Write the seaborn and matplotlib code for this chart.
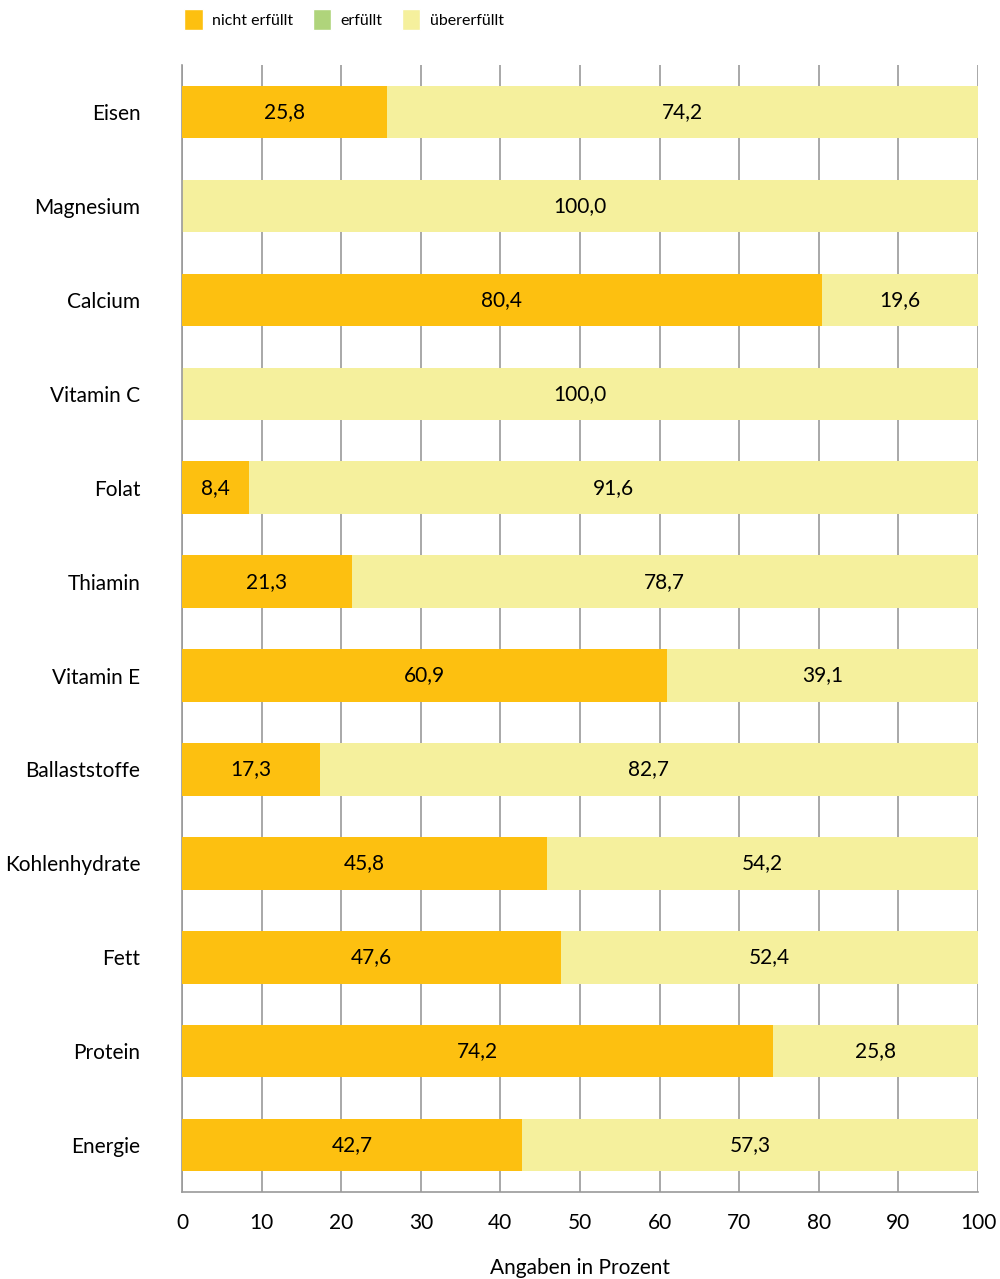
import pandas as pd
import numpy as np
import seaborn as sns
import matplotlib.pyplot as plt
from matplotlib.patches import Patch

naehrstoffe = ["Eisen", "Magnesium", "Calcium", "Vitamin C", "Folat", "Thiamin",
               "Vitamin E", "Ballaststoffe", "Kohlenhydrate", "Fett", "Protein", "Energie"]
nicht_erfuellt = [25.8, 0.0, 80.4, 0.0, 8.4, 21.3, 60.9, 17.3, 45.8, 47.6, 74.2, 42.7]
erfuellt = [0.0] * 12
uebererfuellt = [74.2, 100.0, 19.6, 100.0, 91.6, 78.7, 39.1, 82.7, 54.2, 52.4, 25.8, 57.3]

c_nicht = "#FDC010"
c_erf = "#AFD47B"
c_ueber = "#F5F09D"

sns.set_style("white")
plt.rcParams["font.family"] = ["Lato", "DejaVu Sans"]
plt.rcParams["text.color"] = "black"
plt.rcParams["xtick.color"] = "black"
plt.rcParams["ytick.color"] = "black"
plt.rcParams["axes.labelcolor"] = "black"

df = pd.DataFrame({"Naehrstoff": naehrstoffe, "nicht": nicht_erfuellt,
                   "erf": erfuellt, "ueber": uebererfuellt})
df["total"] = df["nicht"] + df["erf"] + df["ueber"]
df["nicht_erf"] = df["nicht"] + df["erf"]

fig = plt.figure(figsize=(10, 12.79), dpi=100)
ax = fig.add_axes([0.182, 0.068, 0.796, 0.881])

ax.grid(axis="x", color="#9a9a9a", linewidth=1.2, zorder=0)
ax.set_axisbelow(True)

# gestapelte Balken: Gesamt (gelb), darueber erfuellt (gruen), darueber nicht erfuellt (orange)
for col, c, z in [("total", c_ueber, 2), ("nicht_erf", c_erf, 3), ("nicht", c_nicht, 4)]:
    sns.barplot(data=df, x=col, y="Naehrstoff", color=c, orient="h",
                width=0.56, saturation=1, linewidth=0, ax=ax, zorder=z)

def fmt(v):
    return f"{v:.1f}".replace(".", ",")

for i, row in df.iterrows():
    if row["nicht"] > 0:
        ax.text(row["nicht"] / 2, i, fmt(row["nicht"]), ha="center", va="center",
                fontsize=15, zorder=5)
    if row["ueber"] > 0:
        ax.text(row["nicht_erf"] + row["ueber"] / 2, i, fmt(row["ueber"]),
                ha="center", va="center", fontsize=15, zorder=5)

ax.set_xlim(0, 100)
ax.set_ylim(11.5, -0.5)
ax.set_xticks(np.arange(0, 101, 10))
ax.set_xticklabels([str(t) for t in range(0, 101, 10)])
ax.tick_params(axis="x", length=0, pad=15, labelsize=15)
ax.tick_params(axis="y", length=0, pad=30, labelsize=15)
ax.set_ylabel("")
ax.set_xlabel("Angaben in Prozent", fontsize=15, labelpad=18)

for s in ["top", "right"]:
    ax.spines[s].set_visible(False)
for s in ["left", "bottom"]:
    ax.spines[s].set_color("#9a9a9a")
    ax.spines[s].set_linewidth(1.2)

handles = [Patch(facecolor=c_nicht, label="nicht erfüllt"),
           Patch(facecolor=c_erf, label="erfüllt"),
           Patch(facecolor=c_ueber, label="übererfüllt")]
fig.legend(handles=handles, loc="upper left", bbox_to_anchor=(0.17, 1.004),
           ncol=3, frameon=False, fontsize=11.5, handlelength=1.15, handleheight=1.6,
           handletextpad=0.6, columnspacing=1.2)

fig.savefig("out.png", dpi=100)
